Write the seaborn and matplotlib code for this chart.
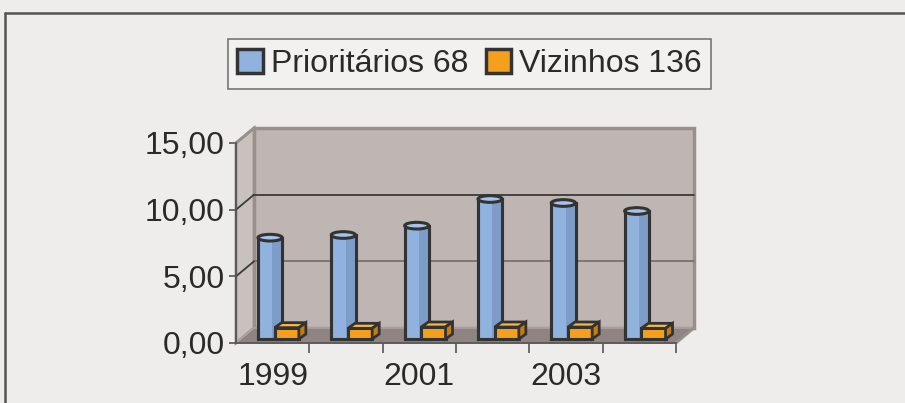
import matplotlib
matplotlib.use("Agg")
import matplotlib.pyplot as plt
import matplotlib.transforms as mtransforms
from matplotlib.patches import Rectangle, Polygon, Ellipse
from matplotlib.lines import Line2D
import seaborn as sns
import pandas as pd

# data
anos = ["1999", "2000", "2001", "2002", "2003", "2004"]
prioritarios = [7.6, 7.8, 8.5, 10.5, 10.2, 9.6]
vizinhos = [0.85, 0.8, 0.9, 0.9, 0.9, 0.8]
series = ["Prioritários 68", "Vizinhos 136"]
yticks = [0, 5, 10, 15]
ytick_labels = ["0,00", "5,00", "10,00", "15,00"]

df = pd.DataFrame({
    "ano": anos * 2,
    "valor": prioritarios + vizinhos,
    "serie": [series[0]] * len(anos) + [series[1]] * len(anos),
})

bg = "#EEEDEB"
wall = "#BFB6B3"
floor = "#8F8481"
frame = "#9B8F8C"
dark = "#333333"
colors = {series[0]: "#8FB2DE", series[1]: "#F5A01C"}
tops = {series[0]: "#A9C3E8", series[1]: "#F7B84A"}
sides = {series[0]: "#7D9CC8", series[1]: "#C77C10"}

sns.set_style("white")
plt.rcParams["font.family"] = ["Liberation Sans", "DejaVu Sans"]

fig = plt.figure(figsize=(9.05, 4.03), dpi=100, facecolor=bg)
ax = fig.add_axes([236 / 905, 60 / 403, 440 / 905, 200 / 403])
ax.set_facecolor("none")
ax.set_xlim(-0.5, len(anos) - 0.5)
ax.set_ylim(0, 15)

# depth of the 3D box, in pixels
DX, DY = 18, 15
ident = mtransforms.IdentityTransform()
back = mtransforms.offset_copy(ax.transData, fig=fig, x=DX, y=DY, units="dots")


def disp(x, y, off=(0, 0)):
    px, py = ax.transData.transform((x, y))
    return px + off[0], py + off[1]


x0, x1 = -0.5, len(anos) - 0.5
BACK = (DX, DY)
# back wall, side wall and floor
ax.add_patch(Rectangle((x0, 0), x1 - x0, 15, transform=back, fc=wall,
                       ec=frame, lw=2.5, zorder=0, clip_on=False))
ax.add_patch(Polygon([disp(x0, 0), disp(x0, 15), disp(x0, 15, BACK), disp(x0, 0, BACK)],
                     closed=True, transform=ident, fc="#C9C1BE", ec=frame, lw=2, zorder=0.5,
                     clip_on=False))
ax.add_patch(Polygon([disp(x0, 0), disp(x1, 0), disp(x1, 0, BACK), disp(x0, 0, BACK)],
                     closed=True, transform=ident, fc=floor, ec="#B0A8A5", lw=1, zorder=0.6,
                     clip_on=False))

# gridlines on the back wall and on the side wall
for yv, gc in [(5, "#7A706D"), (10, "#3A3A3A")]:
    ax.add_line(Line2D([x0, x1], [yv, yv], transform=back, color=gc, lw=1.3, zorder=0.7,
                       clip_on=False))
    (ax1, ay1), (ax2, ay2) = disp(x0, yv), disp(x0, yv, BACK)
    ax.add_line(Line2D([ax1, ax2], [ay1, ay2], transform=ident, color="#3A3A3A", lw=1.3,
                       zorder=0.7, clip_on=False))

sns.barplot(data=df, x="ano", y="valor", hue="serie", palette=colors, width=0.66,
            edgecolor=dark, linewidth=2.2, saturation=1, ax=ax, zorder=2, legend=False)

# bars stand in the middle of the floor depth; the orange ones a bit in front
shift = {series[0]: (9.5, 4), series[1]: (2, 4)}
for cont, name in zip(ax.containers, series):
    sx, sy = shift[name]
    tr = mtransforms.offset_copy(ax.transData, fig=fig, x=sx, y=sy, units="dots")
    z = 2 if name == series[0] else 4
    for bar in cont:
        bar.set_transform(tr)
        bar.set_zorder(z)
        bx, bw, bh = bar.get_x(), bar.get_width(), bar.get_height()
        if name == series[0]:
            # darker right part of the cylinder
            ax.add_patch(Rectangle((bx + bw * 0.6, 0), bw * 0.4, bh, transform=tr,
                                   fc=sides[name], ec="none", zorder=z + 0.1))
            ax.add_patch(Rectangle((bx, 0), bw, bh, transform=tr, fc="none", ec=dark,
                                   lw=2.2, zorder=z + 0.2))
            ax.add_patch(Ellipse((bx + bw / 2, bh), bw, 0.5, transform=tr, fc=tops[name],
                                 ec=dark, lw=2.2, zorder=z + 0.3))
        else:
            d = 7
            (lx, ly), (rx, ry) = disp(bx, bh, (sx, sy)), disp(bx + bw, bh, (sx, sy))
            _, by = disp(bx, 0, (sx, sy))
            ax.add_patch(Polygon([(lx, ly), (rx, ry), (rx + d, ry + 5), (lx + d, ly + 5)],
                                 transform=ident, fc=tops[name], ec=dark, lw=2, zorder=z + 0.1))
            ax.add_patch(Polygon([(rx, by), (rx, ry), (rx + d, ry + 5), (rx + d, by + 5)],
                                 transform=ident, fc=sides[name], ec=dark, lw=2, zorder=z + 0.1))

# front edges
ax.add_line(Line2D(*zip(disp(x1, 0), disp(x1, 0, BACK)), transform=ident, color=frame,
                   lw=2, zorder=1, clip_on=False))
ax.add_line(Line2D(*zip(disp(x0, 15), disp(x0, 15, BACK)), transform=ident, color=frame,
                   lw=2, zorder=1, clip_on=False))

for s in ["top", "right"]:
    ax.spines[s].set_visible(False)
for s in ["left", "bottom"]:
    ax.spines[s].set_color("#555555")
    ax.spines[s].set_linewidth(1.3)

ax.set_yticks(yticks)
ax.set_yticklabels(ytick_labels)
ax.set_xticks([0, 2, 4])
ax.set_xticklabels([anos[0], anos[2], anos[4]])
ax.set_xticks([i + 0.5 for i in range(len(anos))], minor=True)
ax.tick_params(axis="y", length=5, width=1.2, color="#555555", labelsize=23,
               labelcolor="#2A2A2A", pad=3, left=True)
ax.tick_params(axis="x", which="major", length=0, labelsize=23, labelcolor="#2A2A2A", pad=14)
ax.tick_params(axis="x", which="minor", length=7, width=1.2, color="#555555", bottom=True)
ax.set_xlabel("")
ax.set_ylabel("")

# legend
handles = [Rectangle((0, 0), 1, 1, fc=colors[s], ec=dark, lw=2.5) for s in series]
leg = fig.legend(handles, series, loc="center", bbox_to_anchor=(469.5 / 905, 1 - 64 / 403),
                 ncol=2, fontsize=23, frameon=True, fancybox=False, edgecolor="#777777",
                 framealpha=1, handlelength=0.8, handleheight=0.8, handletextpad=0.25,
                 columnspacing=0.55, borderpad=0.3, borderaxespad=0, labelcolor="#2A2A2A")
leg.get_frame().set_facecolor("#F2F1EF")
leg.get_frame().set_linewidth(1.2)

# outer chart frame (cropped in the reference)
fig.add_artist(Line2D([5 / 905, 1], [1 - 13 / 403, 1 - 13 / 403], transform=fig.transFigure,
                      color="#555555", lw=1.8))
fig.add_artist(Line2D([5 / 905, 5 / 905], [0, 1 - 13 / 403], transform=fig.transFigure,
                      color="#555555", lw=1.8))

fig.savefig("out.png", dpi=100, facecolor=bg)
